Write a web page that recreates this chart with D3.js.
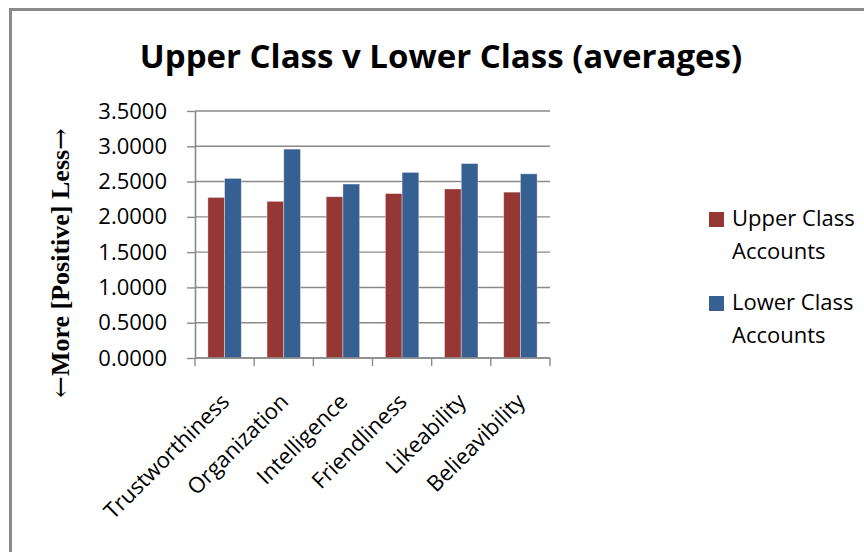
<!DOCTYPE html>
<html>
<head>
<meta charset="utf-8">
<script src="https://cdn.jsdelivr.net/npm/d3@7"></script>
<style>
  html, body { margin: 0; padding: 0; background: #fff; }
  svg { display: block; }
</style>
</head>
<body>
<div id="chart"></div>
<script>
// chart values
const categories = ["Trustworthiness", "Organization", "Intelligence", "Friendliness", "Likeability", "Belieavibility"]
const upperClass = [2.275, 2.220, 2.285, 2.330, 2.395, 2.350]
const lowerClass = [2.545, 2.960, 2.465, 2.630, 2.755, 2.610]
const seriesNames = [["Upper Class", "Accounts"], ["Lower Class", "Accounts"]]
const seriesColors = ["#953735", "#376092"]
const yTickValues = [0, 0.5, 1, 1.5, 2, 2.5, 3, 3.5]
const chartTitle = "Upper Class v Lower Class (averages)"
const yTitleParts = ["\u2190", "More [Positive] Less", "\u2192"]

// dimensions
const W = 864, H = 552
const margin = { top: 111, right: 314, bottom: 194, left: 195 }
const width = W - margin.left - margin.right
const height = H - margin.top - margin.bottom

const svg = d3.select("#chart")
  .append("svg")
    .attr("width", W)
    .attr("height", H)

// outer frame of the chart (goes past the right/bottom edge)
svg.append("rect")
    .attr("x", 10.5).attr("y", 9.5)
    .attr("width", W + 20).attr("height", H + 20)
    .attr("fill", "#fff")
    .attr("stroke", "#8a8a8a")
    .attr("stroke-width", 3)

// title
svg.append("text")
    .attr("x", 441).attr("y", 68)
    .attr("text-anchor", "middle")
    .style("font-family", "'Open Sans', sans-serif")
    .style("font-weight", "bold")
    .style("font-size", "33px")
    .text(chartTitle)

const g = svg.append("g")
    .attr("transform", "translate(" + margin.left + "," + margin.top + ")")

// scales
const x = d3.scaleBand().domain(categories).range([0, width])
const xSub = d3.scaleBand().domain([0, 1]).range([0, x.bandwidth()]).paddingOuter(0.77)
const y = d3.scaleLinear().domain([0, 3.5]).range([height, 0])

// gridlines
g.append("g")
  .selectAll("line")
  .data(yTickValues)
  .join("line")
    .attr("x1", 0).attr("x2", width)
    .attr("y1", d => y(d)).attr("y2", d => y(d))
    .attr("stroke", "#8a8a8a")
    .attr("stroke-width", 1.4)

// bars
const series = [upperClass, lowerClass]
series.forEach((vals, si) => {
  g.append("g")
    .selectAll("rect")
    .data(vals)
    .join("rect")
      .attr("x", (d, i) => x(categories[i]) + xSub(si))
      .attr("y", d => y(d))
      .attr("width", xSub.bandwidth())
      .attr("height", d => height - y(d))
      .attr("fill", seriesColors[si])
      .attr("stroke", "rgba(255,255,255,0.45)")
      .attr("stroke-width", 0.8)
})

// y axis
const yAxis = g.append("g")
    .call(d3.axisLeft(y)
      .tickValues(yTickValues)
      .tickFormat(d3.format(".4f"))
      .tickSizeInner(8)
      .tickSizeOuter(0)
      .tickPadding(20))
yAxis.select(".domain").attr("stroke", "#8a8a8a").attr("stroke-width", 1.6)
yAxis.selectAll(".tick line").attr("stroke", "#8a8a8a").attr("stroke-width", 1.4)
yAxis.selectAll(".tick text")
    .style("font-family", "'Open Sans', sans-serif")
    .style("font-size", "22px")
    .attr("fill", "#000")

// x axis: line and ticks at category boundaries
g.append("line")
    .attr("x1", 0).attr("x2", width)
    .attr("y1", height).attr("y2", height)
    .attr("stroke", "#8a8a8a")
    .attr("stroke-width", 1.6)
const boundaries = categories.map(c => x(c)).concat([x.range()[1]])
g.append("g")
  .selectAll("line")
  .data(boundaries)
  .join("line")
    .attr("x1", d => d).attr("x2", d => d)
    .attr("y1", height).attr("y2", height + 8)
    .attr("stroke", "#8a8a8a")
    .attr("stroke-width", 1.4)

// rotated category labels
g.append("g")
  .selectAll("text")
  .data(categories)
  .join("text")
    .attr("transform", d => "translate(" + (x(d) + x.bandwidth() / 2 + 6) + "," + (height + 45) + ") rotate(-45)")
    .attr("text-anchor", "end")
    .style("font-family", "'Open Sans', sans-serif")
    .style("font-size", "22px")
    .text(d => d)

// y axis title, arrows from DejaVu Serif
const yTitle = svg.append("text")
    .attr("transform", "translate(69,263) rotate(-90)")
    .attr("text-anchor", "middle")
    .style("font-family", "'Liberation Serif', serif")
    .style("font-weight", "bold")
    .style("font-size", "26px")
yTitle.selectAll("tspan")
  .data(yTitleParts)
  .join("tspan")
    .style("font-family", (d, i) => i === 1 ? "'Liberation Serif', serif" : "'DejaVu Serif', serif")
    .style("font-weight", (d, i) => i === 1 ? "bold" : "normal")
    .text(d => d)

// legend
const legend = svg.append("g")
seriesNames.forEach((lines, si) => {
  const top = 212 + si * 84
  legend.append("rect")
      .attr("x", 709).attr("y", top)
      .attr("width", 15).attr("height", 15)
      .attr("fill", seriesColors[si])
  lines.forEach((ln, li) => {
    legend.append("text")
        .attr("x", 732).attr("y", top + 14 + li * 33)
        .style("font-family", "'Open Sans', sans-serif")
        .style("font-size", "22px")
        .text(ln)
  })
})
</script>
</body>
</html>
